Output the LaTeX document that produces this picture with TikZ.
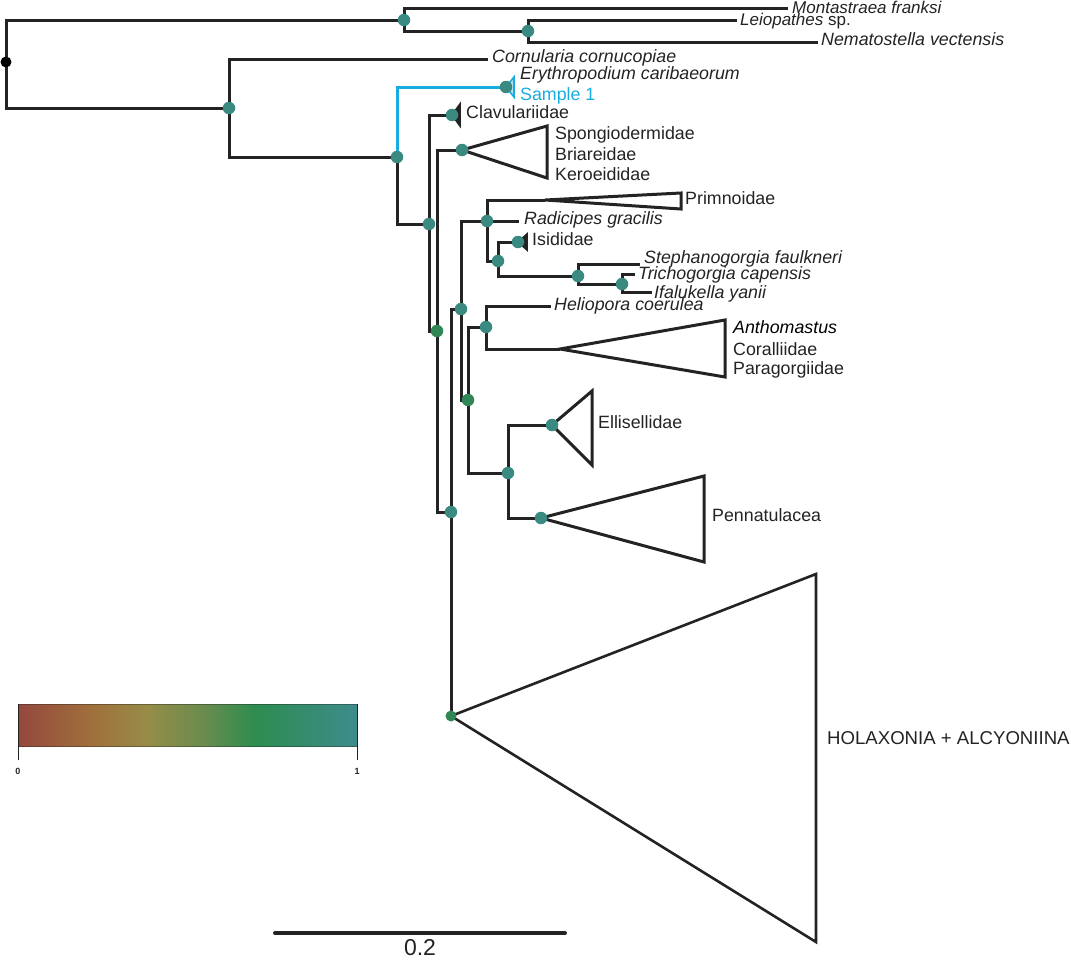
\documentclass[tikz,border=0pt]{standalone}
\usepackage{fontspec}
\setmainfont{Liberation Sans}
\definecolor{lc}{RGB}{35,35,35}
\definecolor{teal1}{RGB}{58,138,130}
\definecolor{green1}{RGB}{48,135,85}
\definecolor{cyan1}{RGB}{25,172,225}
\definecolor{cb0}{RGB}{148,72,62}
\definecolor{cb1}{RGB}{160,112,60}
\definecolor{cb2}{RGB}{150,140,72}
\definecolor{cb3}{RGB}{105,140,78}
\definecolor{cb4}{RGB}{45,140,80}
\definecolor{cb5}{RGB}{62,140,140}
\pgfdeclarehorizontalshading{cbar}{100bp}{color(0bp)=(cb0); color(25bp)=(cb0); color(36bp)=(cb1); color(44bp)=(cb2); color(52.5bp)=(cb3); color(60bp)=(cb4); color(75bp)=(cb5); color(100bp)=(cb5)}
\begin{document}
\begin{tikzpicture}[x=1pt,y=-1pt,
  br/.style={draw=lc,line width=3pt,line join=miter},
  bb/.style={draw=cyan1,line width=3pt,line join=miter},
  tiny/.style={line width=1.6pt,line join=miter},
  dT/.style={circle,fill=teal1,inner sep=0pt,minimum size=12.5pt},
  dG/.style={circle,fill=green1,inner sep=0pt,minimum size=12.5pt},
  lab/.style={anchor=west,inner sep=0pt,text height=0.716em,text depth=0pt,font=\fontsize{17.8}{20}\selectfont,text=lc},
  labi/.style={lab,font=\fontsize{17.8}{20}\selectfont\itshape}]
\useasboundingbox (0,0) rectangle (1071,961);
% coordinates
\coordinate (r) at (6,62);
\coordinate (n1) at (404,20);
\coordinate (n3) at (528,31);
\coordinate (tMon) at (788,8);
\coordinate (tLeio) at (737,20);
\coordinate (tNema) at (818,42);
\coordinate (n2) at (229,108);
\coordinate (tCorn) at (488,59);
\coordinate (n4) at (397,157);
\coordinate (nEry) at (506,87);
\coordinate (n5) at (429,224);
\coordinate (nClav) at (452,115);
\coordinate (n6) at (437,331);
\coordinate (nSpon) at (462,150);
\coordinate (n7) at (451,512);
\coordinate (n8) at (461,309);
\coordinate (nHol) at (451,716);
\coordinate (n9) at (487,221);
\coordinate (n10) at (468,400);
\coordinate (aPrim) at (545,200);
\coordinate (tRad) at (519,221);
\coordinate (n11) at (498,261);
\coordinate (nIsi) at (518,242);
\coordinate (n12) at (578,276);
\coordinate (tSteph) at (640,264);
\coordinate (n13) at (622,284);
\coordinate (tTrich) at (635,274);
\coordinate (tIfal) at (652,292);
\coordinate (n14) at (486,327);
\coordinate (tHel) at (551,306);
\coordinate (aAnth) at (560,349);
\coordinate (n15) at (508,473);
\coordinate (nEll) at (552,425);
\coordinate (nPen) at (541,518);
% triangle corners
\coordinate (eT) at (514,77); \coordinate (eB) at (514,97);
\coordinate (cT) at (460,104); \coordinate (cB) at (460,126);
\coordinate (sT) at (547,126); \coordinate (sB) at (547,178);
\coordinate (pT) at (681,193); \coordinate (pB) at (681,209);
\coordinate (iT) at (527,234); \coordinate (iB) at (527,250);
\coordinate (aT) at (725,320); \coordinate (aB) at (725,377);
\coordinate (elT) at (592,391); \coordinate (elB) at (592,465);
\coordinate (peT) at (704,476); \coordinate (peB) at (704,562);
\coordinate (hT) at (816,574); \coordinate (hB) at (816,942);
% branches
\draw[br] (n1) -| (r) |- (n2);
\draw[br] (tMon) -| (n1) |- (n3);
\draw[br] (tLeio) -| (n3) |- (tNema);
\draw[br] (tCorn) -| (n2) |- (n4);
\draw[bb] (nEry) -| (n4);
\draw[br] (n4) |- (n5);
\draw[br] (nClav) -| (n5) |- (n6);
\draw[br] (nSpon) -| (n6) |- (n7);
\draw[br] (n8) -| (n7) -- (nHol);
\draw[br] (n9) -| (n8) |- (n10);
\draw[br] (aPrim) -| (n9) |- (n11);
\draw[br] (n9) -- (tRad);
\draw[br] (nIsi) -| (n11) |- (n12);
\draw[br] (tSteph) -| (n12) |- (n13);
\draw[br] (tTrich) -| (n13) |- (tIfal);
\draw[br] (n14) -| (n10) |- (n15);
\draw[br] (tHel) -| (n14) |- (aAnth);
\draw[br] (nEll) -| (n15) |- (nPen);
% collapsed clades
\draw[bb,tiny,fill=cyan1!35] (nEry) -- (eT) -- (eB) -- cycle;
\draw[br,tiny,fill=lc] (nClav) -- (cT) -- (cB) -- cycle;
\draw[br] (nSpon) -- (sT) -- (sB) -- cycle;
\draw[br] (aPrim) -- (pT) -- (pB) -- cycle;
\draw[br,tiny,fill=lc] (nIsi) -- (iT) -- (iB) -- cycle;
\draw[br] (aAnth) -- (aT) -- (aB) -- cycle;
\draw[br] (nEll) -- (elT) -- (elB) -- cycle;
\draw[br] (nPen) -- (peT) -- (peB) -- cycle;
\draw[br,line width=2.6pt] (nHol) -- (hT) -- (hB) -- cycle;
% dots
\node[circle,fill=black,inner sep=0pt,minimum size=11pt] (dr) at (r) {};
\node[dT] (d1) at (n1) {};
\node[dT] (d3) at (n3) {};
\node[dT] (d2) at (n2) {};
\node[dT] (d4) at (n4) {};
\node[dT] (dEry) at (nEry) {};
\node[dT] (d5) at (n5) {};
\node[dT] (dClav) at (nClav) {};
\node[dG] (d6) at (n6) {};
\node[dT] (dSpon) at (nSpon) {};
\node[dT] (d7) at (n7) {};
\node[dT] (d8) at (n8) {};
\node[dT] (d9) at (n9) {};
\node[dG] (d10) at (n10) {};
\node[dT] (d11) at (n11) {};
\node[dT] (dIsi) at (nIsi) {};
\node[dT] (d12) at (n12) {};
\node[dT] (d13) at (n13) {};
\node[dT] (d14) at (n14) {};
\node[dT] (d15) at (n15) {};
\node[dT] (dEll) at (nEll) {};
\node[dT] (dPen) at (nPen) {};
\node[dG,minimum size=11pt] (dHol) at (nHol) {};
% labels
\node[labi,font=\fontsize{17}{19}\selectfont\itshape] (lMon) at (792,9.5) {Montastraea franksi};
\node[lab,font=\fontsize{17}{19}\selectfont] (lLeio) at (740,22) {\textit{Leiopathes} sp.};
\node[labi] (lNema) at (821,42) {Nematostella vectensis};
\node[labi] (lCorn) at (492,59) {Cornularia cornucopiae};
\node[labi] (lEry) at (520,76) {Erythropodium caribaeorum};
\node[lab,text=cyan1] (lSam) at (520,97) {Sample 1};
\node[lab] (lClav) at (466,115) {Clavulariidae};
\node[lab] (lSpo) at (555,136) {Spongiodermidae};
\node[lab] (lBri) at (555,157) {Briareidae};
\node[lab] (lKer) at (555,177) {Keroeididae};
\node[lab] (lPri) at (685,201) {Primnoidae};
\node[labi] (lRad) at (524,221) {Radicipes gracilis};
\node[lab] (lIsi) at (532,242) {Isididae};
\node[labi] (lSte) at (644,260) {Stephanogorgia faulkneri};
\node[labi] (lTri) at (638,276) {Trichogorgia capensis};
\node[labi] (lIfa) at (654,295) {Ifalukella yanii};
\node[labi] (lHel) at (554,307) {Heliopora coerulea};
\node[labi,text=black] (lAnt) at (733,330) {Anthomastus};
\node[lab] (lCor) at (733,352) {Coralliidae};
\node[lab] (lPar) at (733,371) {Paragorgiidae};
\node[lab] (lEll) at (598,425) {Ellisellidae};
\node[lab] (lPen) at (712,518) {Pennatulacea};
\node[lab,font=\fontsize{18.6}{21}\selectfont] (lHol) at (827,741) {HOLAXONIA + ALCYONIINA};
% colour bar
\shade[shading=cbar] (18,704) rectangle (357,746);
\draw[lc,line width=0.4pt,opacity=0.4] (18,704) -- (357,704) (18,746) -- (357,746);
\coordinate (cb0a) at (18,704); \coordinate (cb0b) at (18,760);
\coordinate (cb1a) at (357,704); \coordinate (cb1b) at (357,760);
\draw[lc,line width=1pt] (cb0a) -- (cb0b);
\draw[lc,line width=1pt] (cb1a) -- (cb1b);
\node[font=\fontsize{9}{10}\selectfont\bfseries,inner sep=0pt,text=lc] (c0) at (18,771) {0};
\node[font=\fontsize{9}{10}\selectfont\bfseries,inner sep=0pt,text=lc] (c1) at (357,771) {1};
% scale bar
\coordinate (sbL) at (275,933); \coordinate (sbR) at (565,933);
\draw[lc,line width=4pt,line cap=round] (sbL) -- (sbR);
\node[font=\fontsize{23}{26}\selectfont,inner sep=0pt,text height=0.716em,text depth=0pt,text=lc] (sbl) at (420,952) {0.2};
\end{tikzpicture}
\end{document}
